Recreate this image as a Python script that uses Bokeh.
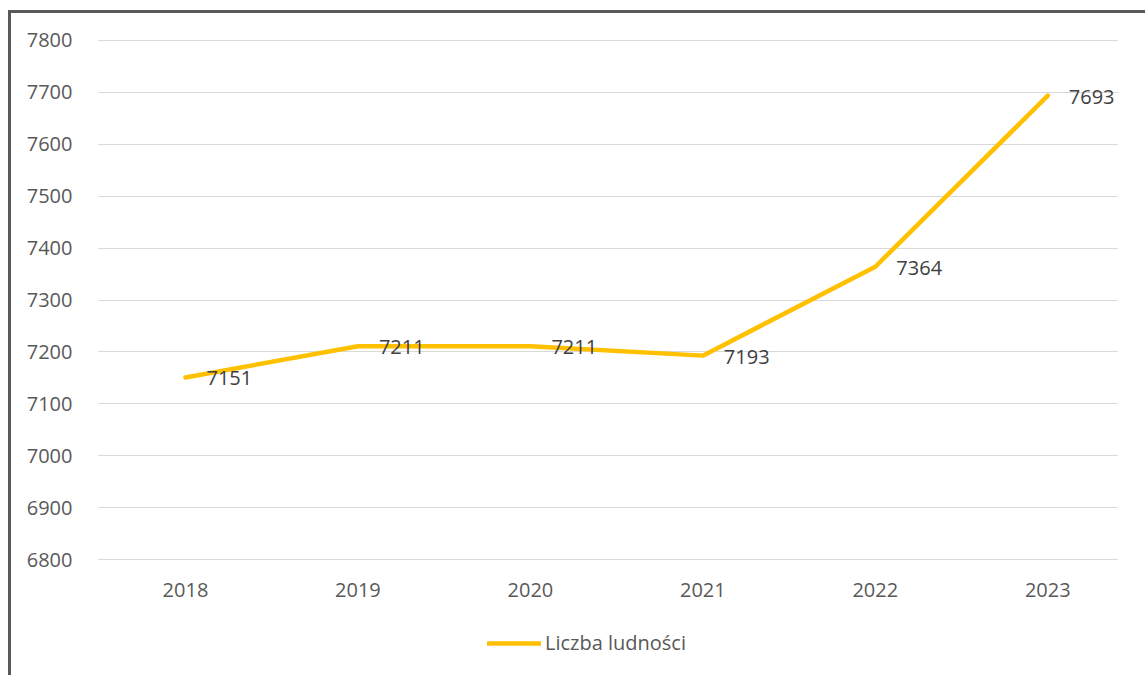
from bokeh.plotting import figure
from bokeh.layouts import column
from bokeh.models import ColumnDataSource, Legend, LegendItem, Range1d, FixedTicker
from bokeh.core.properties import value
from bokeh.embed import file_html
from bokeh.resources import INLINE

years = [2018, 2019, 2020, 2021, 2022, 2023]
population = [7151, 7211, 7211, 7193, 7364, 7693]
labels = [str(v) for v in population]
y_ticks = [6800, 6900, 7000, 7100, 7200, 7300, 7400, 7500, 7600, 7700, 7800]
series_name = "Liczba ludności"

FONT = "Open Sans"
TXT = "#595959"
FS = "20px"
LINE_COLOR = "#FFC000"

src = ColumnDataSource(dict(x=years, y=population, lab=labels))

p = figure(width=1134, height=600, output_backend="svg", toolbar_location=None,
           x_range=Range1d(2017.49, 2023.41), y_range=Range1d(6797, 7803),
           min_border_left=86, min_border_right=27, min_border_top=25, min_border_bottom=52)
p.outline_line_color = None
p.background_fill_color = "white"
p.border_fill_color = "white"

p.line("x", "y", source=src, line_color=LINE_COLOR, line_width=4.5, line_join="round", line_cap="round")
p.text("x", "y", text="lab", source=src, x_offset=21, y_offset=1, text_baseline="middle",
       text_align="left", text_font=value(FONT), text_font_size=FS, text_color="#404040")

p.xaxis.ticker = FixedTicker(ticks=years)
p.yaxis.ticker = FixedTicker(ticks=y_ticks)
for ax in (p.xaxis[0], p.yaxis[0]):
    ax.axis_line_color = None
    ax.major_tick_line_color = None
    ax.minor_tick_line_color = None
    ax.major_label_text_font = FONT
    ax.major_label_text_font_size = FS
    ax.major_label_text_color = TXT
p.yaxis.major_label_standoff = 19
p.xaxis.major_label_standoff = 15

p.xgrid.grid_line_color = None
p.ygrid.ticker = FixedTicker(ticks=y_ticks)
p.ygrid.grid_line_color = "#d9d9d9"
p.ygrid.grid_line_width = 1

# legend strip below the chart (series line lies outside this strip's ranges; only its legend shows)
p2 = figure(width=1134, height=62, output_backend="svg", toolbar_location=None,
            x_range=Range1d(0, 1), y_range=Range1d(0, 1),
            min_border_left=0, min_border_right=0, min_border_top=0, min_border_bottom=0)
p2.axis.visible = False
p2.grid.visible = False
p2.outline_line_color = None
p2.border_fill_color = "white"
r2 = p2.line("x", "y", source=src, line_color=LINE_COLOR, line_width=4.5, line_cap="round")
legend = Legend(items=[LegendItem(label=series_name, renderers=[r2])],
                location=(390, 19), orientation="horizontal",
                border_line_color=None, background_fill_alpha=0,
                padding=0, margin=0, glyph_width=54, glyph_height=20,
                label_text_font=FONT, label_text_font_size=FS,
                label_text_color=TXT, label_standoff=4)
p2.add_layout(legend, "center")

layout = column(p, p2, spacing=0)
layout.styles = {"border-left": "3px solid #5a5a5a", "border-top": "3px solid #5a5a5a",
                 "margin-left": "8px", "margin-top": "10px"}

open("out.html", "w").write(file_html(layout, INLINE))
